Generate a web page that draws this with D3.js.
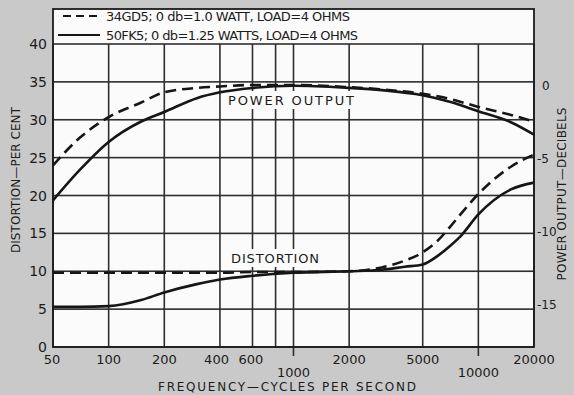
<!DOCTYPE html>
<html>
<head>
<meta charset="utf-8">
<script src="https://cdn.jsdelivr.net/npm/d3@7/dist/d3.min.js"></script>
<style>
  body { margin: 0; background: #c9c9c9; }
  svg { display: block; }
  text { font-family: "DejaVu Sans", sans-serif; fill: #1c1c1c; }
</style>
</head>
<body>
<div id="chart"></div>
<script>
// frequency axis (cycles per second)
const freqGrid = [50, 100, 200, 400, 600, 800, 1000, 2000, 5000, 10000, 20000];
const freqLabels = [50, 100, 200, 400, 600, 1000, 2000, 5000, 10000, 20000];
const distTicks = [0, 5, 10, 15, 20, 25, 30, 35, 40];
const dbTicks = [0, -5, -10, -15];

// power output, decibels
const powerFreq = [50, 70, 100, 150, 200, 300, 400, 600, 1000, 2000, 3000, 5000, 7000, 10000, 15000, 20000];
const power34GD5 = [-5.5, -3.6, -2.2, -1.2, -0.5, -0.2, -0.1, 0, 0, -0.15, -0.3, -0.6, -0.95, -1.5, -2.05, -2.5];
const power50FK5 = [-7.9, -5.8, -3.9, -2.5, -1.85, -0.9, -0.5, -0.2, -0.05, -0.2, -0.35, -0.7, -1.15, -1.8, -2.55, -3.4];

// distortion, per cent
const distFreq = [50, 70, 100, 150, 200, 300, 400, 600, 1000, 2000, 3000, 4000, 5000, 6000, 7000, 8000, 10000, 15000, 20000];
const dist34GD5 = [9.8, 9.8, 9.8, 9.8, 9.8, 9.8, 9.8, 9.9, 9.9, 10.0, 10.5, 11.4, 12.5, 14.0, 15.8, 17.5, 20.2, 23.8, 25.4];
const dist50FK5 = [5.3, 5.3, 5.4, 6.2, 7.2, 8.3, 8.9, 9.4, 9.8, 10.0, 10.2, 10.6, 10.9, 12.0, 13.3, 14.6, 17.5, 20.8, 21.7];

const legendItems = [
    { text: "34GD5; 0 db=1.0 WATT,  LOAD=4 OHMS", dashed: true },
    { text: "50FK5; 0 db=1.25 WATTS, LOAD=4 OHMS", dashed: false }
];

const width = 574, height = 395;
const plot = { left: 53, right: 534, top: 44, bottom: 347, frameTop: 9 };

const svg = d3.select("#chart").append("svg")
    .attr("width", width)
    .attr("height", height);

svg.append("rect")
    .attr("width", width).attr("height", height)
    .attr("fill", "#c9c9c9");

const x = d3.scaleLog().domain([50, 20000]).range([plot.left, plot.right]);
const yDist = d3.scaleLinear().domain([0, 40]).range([plot.bottom, plot.top]);
const yDb = d3.scaleLinear().domain([-15, 0]).range([304, 85]);

// frame (includes legend strip on top)
svg.append("rect")
    .attr("x", plot.left).attr("y", plot.frameTop)
    .attr("width", plot.right - plot.left)
    .attr("height", plot.bottom - plot.frameTop)
    .attr("fill", "#fbfbfb");

// grid drawn as thin filled bars
const gridW = 1.6;
const grid = svg.append("g").attr("fill", "#2e2e2e");

grid.selectAll("rect.v")
    .data(freqGrid)
    .enter().append("rect")
    .attr("class", "v")
    .attr("x", d => x(d) - gridW / 2)
    .attr("y", plot.top)
    .attr("width", gridW)
    .attr("height", d => (d === 1000 || d === 10000) ? plot.bottom - plot.top + 9 : plot.bottom - plot.top);

grid.selectAll("rect.h")
    .data(distTicks)
    .enter().append("rect")
    .attr("class", "h")
    .attr("x", plot.left)
    .attr("y", d => yDist(d) - gridW / 2)
    .attr("width", plot.right - plot.left)
    .attr("height", gridW);

// outer frame
svg.append("rect")
    .attr("x", plot.left).attr("y", plot.frameTop)
    .attr("width", plot.right - plot.left)
    .attr("height", plot.bottom - plot.frameTop)
    .attr("fill", "none")
    .attr("stroke", "#1c1c1c")
    .attr("stroke-width", 1.8);

// curve labels with white background
function curveLabel(txt, cx, cy, w) {
    svg.append("rect")
        .attr("x", cx - w / 2 - 3).attr("y", cy - 9)
        .attr("width", w + 6).attr("height", 18)
        .attr("fill", "#fbfbfb");
    svg.append("text")
        .attr("x", cx).attr("y", cy + 5)
        .attr("text-anchor", "middle")
        .attr("font-size", 13)
        .attr("textLength", w)
        .text(txt);
}
curveLabel("POWER OUTPUT", 291, 100, 126);
curveLabel("DISTORTION", 275, 258, 88);

const line = d3.line().curve(d3.curveMonotoneX);

function drawSeries(freqs, vals, yScale, dashed) {
    svg.append("path")
        .attr("d", line(freqs.map((f, i) => [x(f), yScale(vals[i])])))
        .attr("fill", "none")
        .attr("stroke", "#161616")
        .attr("stroke-width", 2.6)
        .attr("stroke-dasharray", dashed ? "11,6" : null);
}
drawSeries(powerFreq, power34GD5, yDb, true);
drawSeries(powerFreq, power50FK5, yDb, false);
drawSeries(distFreq, dist34GD5, yDist, true);
drawSeries(distFreq, dist50FK5, yDist, false);

// legend
legendItems.forEach(function (d, i) {
    const ly = 16 + i * 19;
    svg.append("line")
        .attr("x1", d.dashed ? 63 : 58).attr("x2", 100)
        .attr("y1", ly).attr("y2", ly)
        .attr("stroke", "#161616")
        .attr("stroke-width", 2.2)
        .attr("stroke-dasharray", d.dashed ? "8,5" : null);
    svg.append("text")
        .attr("x", 106).attr("y", ly + 5)
        .attr("font-size", 13)
        .attr("textLength", i === 0 ? 244 : 252)
        .text(d.text);
});

// left axis labels
svg.selectAll(".ltick")
    .data(distTicks)
    .enter().append("text")
    .attr("class", "ltick")
    .attr("x", 47)
    .attr("y", d => yDist(d) + 5)
    .attr("text-anchor", "end")
    .attr("font-size", 14)
    .text(d => d);

// right axis labels
svg.selectAll(".rtick")
    .data(dbTicks)
    .enter().append("text")
    .attr("class", "rtick")
    .attr("x", d => d === 0 ? 542 : 537)
    .attr("y", d => yDb(d) + 5)
    .attr("font-size", 12)
    .text(d => d === 0 ? "0" : "-" + Math.abs(d));

// frequency labels
svg.selectAll(".xtick")
    .data(freqLabels)
    .enter().append("text")
    .attr("class", "xtick")
    .attr("x", d => d === 50 ? x(d) - 1 : x(d))
    .attr("y", d => (d === 1000 || d === 10000) ? 377 : 364)
    .attr("text-anchor", d => d === 400 ? "end" : (d === 600 ? "start" : "middle"))
    .attr("dx", d => d === 400 ? 9 : (d === 600 ? -14 : 0))
    .attr("font-size", 13)
    .text(d => d);

// axis titles
svg.append("text")
    .attr("x", 287).attr("y", 391)
    .attr("text-anchor", "middle")
    .attr("font-size", 12)
    .attr("textLength", 258)
    .text("FREQUENCY\u2014CYCLES PER SECOND");

svg.append("text")
    .attr("transform", "translate(20,180) rotate(-90)")
    .attr("text-anchor", "middle")
    .attr("font-size", 12)
    .attr("textLength", 146)
    .text("DISTORTION\u2014PER CENT");

svg.append("text")
    .attr("transform", "translate(566,194) rotate(-90)")
    .attr("text-anchor", "middle")
    .attr("font-size", 12)
    .attr("textLength", 173)
    .text("POWER OUTPUT\u2014DECIBELS");
</script>
</body>
</html>
